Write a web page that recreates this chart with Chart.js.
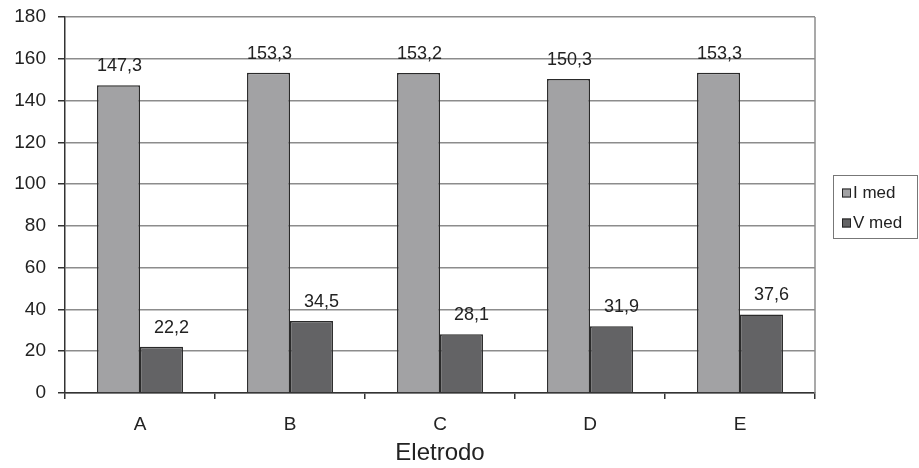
<!DOCTYPE html>
<html><head><meta charset="utf-8">
<script src="https://cdn.jsdelivr.net/npm/chart.js@4/dist/chart.umd.min.js"></script>
<style>html,body{margin:0;padding:0;background:#fff}#wrap{width:919px;height:468px}</style>
</head><body><div id="wrap"><canvas id="c" width="919" height="468"></canvas></div>
<script>
const categories = ['A','B','C','D','E'];
const iMed = [147.3,153.3,153.2,150.3,153.3];
const vMed = [22.2,34.5,28.1,31.9,37.6];
const seriesNames = ['I med','V med'];
const yTicks = [0,20,40,60,80,100,120,140,160,180];
const FONT = "'Liberation Sans', Arial, sans-serif";

const fmt = v => v.toFixed(1).replace('.', ',');

const labelsPlugin = {
  id: 'labels',
  afterDatasetsDraw(chart) {
    const ctx = chart.ctx;
    ctx.save();
    ctx.font = '18px ' + FONT;
    ctx.fillStyle = '#222';
    ctx.textAlign = 'center';
    ctx.textBaseline = 'alphabetic';
    chart.data.datasets.forEach((ds, di) => {
      chart.getDatasetMeta(di).data.forEach((bar, i) => {
        ctx.fillText(fmt(ds.data[i]), bar.x + (di === 1 ? 10 : 1), bar.y - 14);
      });
    });
    ctx.restore();
  }
};

const framePlugin = {
  id: 'frame',
  beforeDatasetsDraw(chart) {
    const ctx = chart.ctx, a = chart.chartArea;
    ctx.save();
    ctx.strokeStyle = '#8c8c8c';
    ctx.lineWidth = 1.5;
    ctx.beginPath();
    ctx.moveTo(a.right, a.top);
    ctx.lineTo(a.right, a.bottom);
    ctx.stroke();
    ctx.restore();
  },
  afterDraw(chart) {
    const ctx = chart.ctx, a = chart.chartArea;
    ctx.save();
    const bx = a.right + 18, by = 175, bw = 84, bh = 63;
    ctx.strokeStyle = '#777';
    ctx.lineWidth = 1;
    ctx.strokeRect(bx + 0.5, by + 0.5, bw, bh);
    ctx.font = '17px ' + FONT;
    ctx.textBaseline = 'middle';
    ctx.textAlign = 'left';
    chart.data.datasets.forEach((ds, i) => {
      const y = by + 18 + i * 30;
      ctx.fillStyle = ds.backgroundColor;
      ctx.fillRect(bx + 9, y - 4.5, 9, 9);
      ctx.strokeStyle = '#222';
      ctx.strokeRect(bx + 9.5, y - 4, 8, 8);
      ctx.fillStyle = '#222';
      ctx.fillText(ds.label, bx + 20, y);
    });
    ctx.restore();
  }
};

new Chart(document.getElementById('c'), {
  type: 'bar',
  data: {
    labels: categories,
    datasets: [
      {label: seriesNames[0], data: iMed, backgroundColor: '#a2a2a4', borderColor: '#2a2a2a', borderWidth: 1.5, categoryPercentage: 0.573, barPercentage: 1},
      {label: seriesNames[1], data: vMed, backgroundColor: '#636365', borderColor: '#2a2a2a', borderWidth: 1.5, categoryPercentage: 0.573, barPercentage: 1}
    ]
  },
  options: {
    responsive: false,
    animation: false,
    layout: {padding: {left: 10, right: 104, top: 17, bottom: 0}},
    plugins: {legend: {display: false}, tooltip: {enabled: false}},
    scales: {
      x: {
        offset: true,
        grid: {display: true, offset: true, drawOnChartArea: false, color: '#333', tickLength: 6, lineWidth: 1.5},
        border: {color: '#333', width: 1.5},
        ticks: {font: {family: FONT, size: 19}, color: '#222', padding: 14},
        title: {display: true, text: 'Eletrodo', font: {family: FONT, size: 24}, color: '#222', padding: {top: 0, bottom: 0}},
        afterFit(s) { s.height = 75; s.paddingLeft = 0; s.paddingRight = 0; }
      },
      y: {
        min: 0, max: 180,
        afterBuildTicks(s) { s.ticks = yTicks.map(v => ({value: v})); },
        grid: {color: '#8c8c8c', lineWidth: 1.5, tickLength: 7, tickColor: '#333'},
        border: {color: '#333', width: 1.5},
        ticks: {font: {family: FONT, size: 19}, color: '#222', padding: 12},
        afterFit(s) { s.width = 55; s.paddingTop = 0; s.paddingBottom = 0; }
      }
    }
  },
  plugins: [labelsPlugin, framePlugin]
});
</script></body></html>
